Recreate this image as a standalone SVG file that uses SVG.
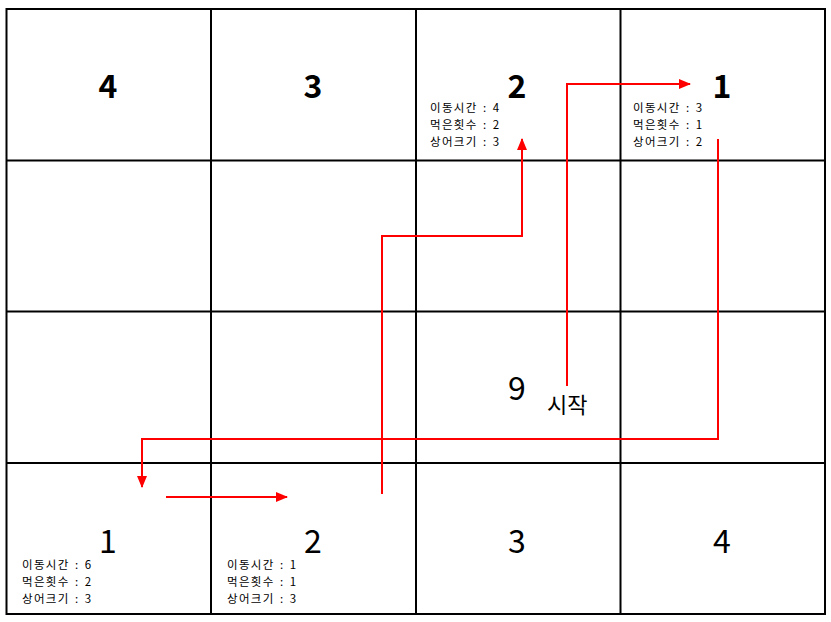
<svg xmlns="http://www.w3.org/2000/svg" width="831" height="622" viewBox="0 0 831 622">
<style>
.grid{stroke:#000;stroke-width:2;fill:none}
.big{font-family:"Noto Sans CJK KR","Noto Sans",sans-serif;font-size:32px;text-anchor:middle;fill:#000}
.bold{font-weight:bold}
.small{font-family:"Noto Sans CJK KR","Noto Sans",sans-serif;font-size:11.5px;letter-spacing:1.3px;word-spacing:1.5px;fill:#000}
.mid{font-family:"Noto Sans CJK KR","Noto Sans",sans-serif;font-size:22px;fill:#000}
.conn{stroke:#ff0000;stroke-width:2;fill:none;marker-end:url(#ah)}
</style>
<defs>
<marker id="ah" markerWidth="12" markerHeight="10" refX="11" refY="5" orient="auto" markerUnits="userSpaceOnUse">
<path d="M0,0 L12,5 L0,10 Z" fill="#ff0000"/>
</marker>
</defs>
<rect width="831" height="622" fill="#fff"/>
<g id="grid" class="grid">
<rect x="6.5" y="9" width="818.5" height="605"/>
<line x1="211" y1="9" x2="211" y2="614"/>
<line x1="416" y1="9" x2="416" y2="614"/>
<line x1="620.5" y1="9" x2="620.5" y2="614"/>
<line x1="6.5" y1="160.5" x2="825" y2="160.5"/>
<line x1="6.5" y1="311.5" x2="825" y2="311.5"/>
<line x1="6.5" y1="463" x2="825" y2="463"/>
</g>
<g id="cell-top-4"><text class="big bold" x="108" y="98">4</text></g>
<g id="cell-top-3"><text class="big bold" x="313" y="98">3</text></g>
<g id="cell-top-2">
<text class="big bold" x="517" y="98">2</text>
<text class="small" x="430" y="112">이동시간 : 4</text>
<text class="small" x="430" y="129">먹은횟수 : 2</text>
<text class="small" x="430" y="146">상어크기 : 3</text>
</g>
<g id="cell-top-1">
<text class="big bold" x="722" y="98">1</text>
<text class="small" x="633" y="112">이동시간 : 3</text>
<text class="small" x="633" y="129">먹은횟수 : 1</text>
<text class="small" x="633" y="146">상어크기 : 2</text>
</g>
<g id="cell-start">
<text class="big" x="517" y="400">9</text>
<text class="mid" x="547" y="413">시작</text>
</g>
<g id="cell-bot-1">
<text class="big" x="108" y="553">1</text>
<text class="small" x="22" y="569">이동시간 : 6</text>
<text class="small" x="22" y="586">먹은횟수 : 2</text>
<text class="small" x="22" y="603">상어크기 : 3</text>
</g>
<g id="cell-bot-2">
<text class="big" x="313" y="553">2</text>
<text class="small" x="227" y="569">이동시간 : 1</text>
<text class="small" x="227" y="586">먹은횟수 : 1</text>
<text class="small" x="227" y="603">상어크기 : 3</text>
</g>
<g id="cell-bot-3"><text class="big" x="517" y="553">3</text></g>
<g id="cell-bot-4"><text class="big" x="722" y="553">4</text></g>
<g id="connectors">
<polyline class="conn" points="567,386 567,84 690,84"/>
<polyline class="conn" points="718,139 718,439 142,439 142,487"/>
<polyline class="conn" points="166,497 287,497"/>
<polyline class="conn" points="382,494 382,236 522,236 522,139"/>
</g>
</svg>
